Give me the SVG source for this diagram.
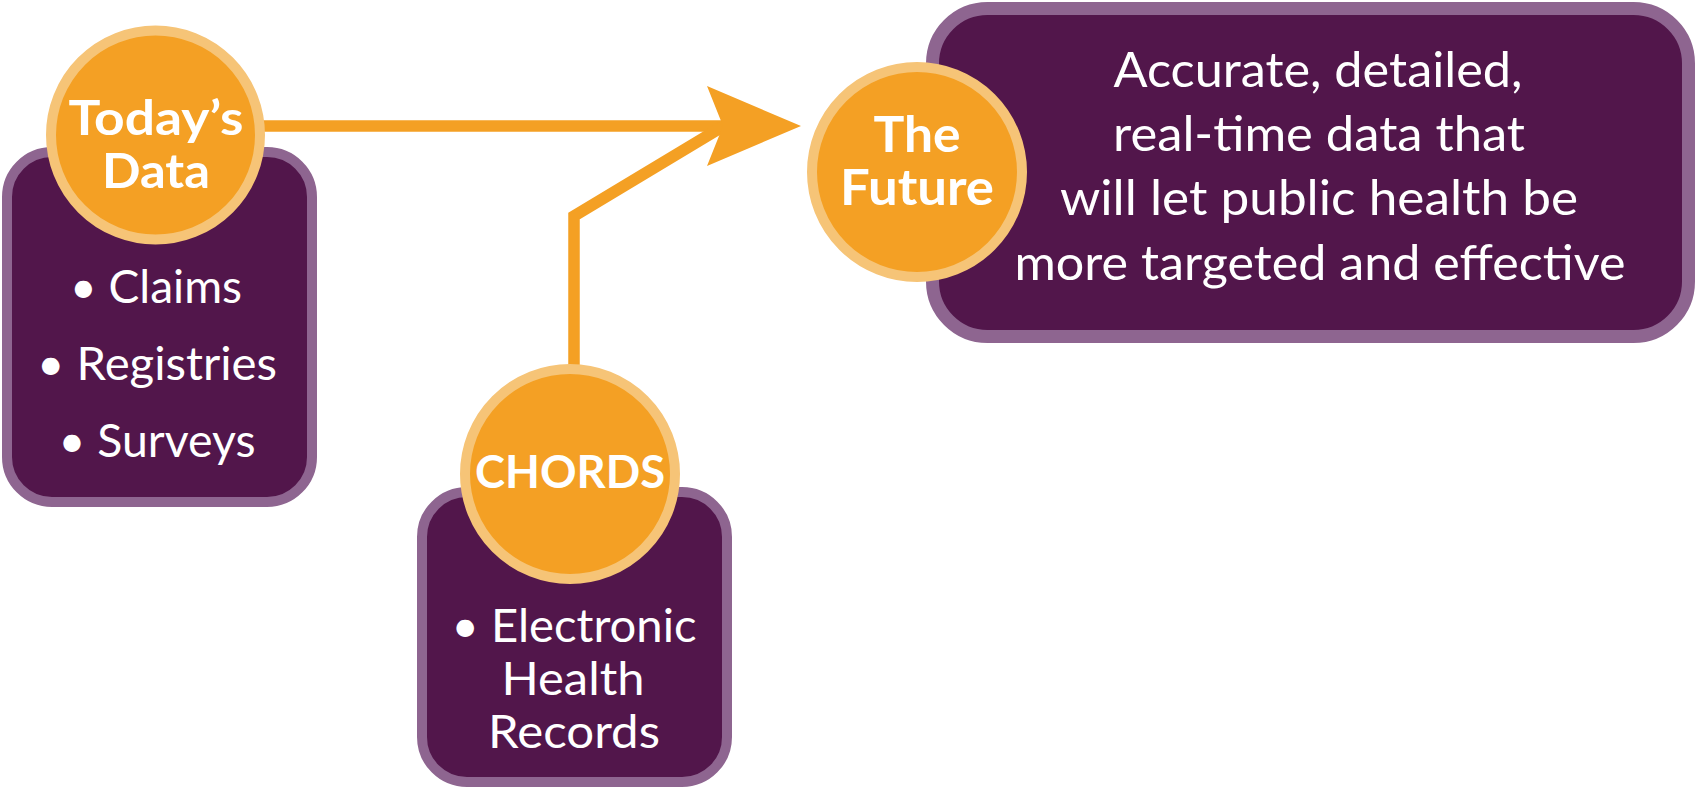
<svg xmlns="http://www.w3.org/2000/svg" width="1696" height="788" viewBox="0 0 1696 788">
<style>
.box{fill:#52164b;stroke:#8e6590}
.circ{fill:#f4a024;stroke:#f6c477;stroke-width:10}
.lbl{font-family:Lato,"Open Sans","Liberation Sans",sans-serif;font-weight:bold;fill:#fff;text-anchor:middle}
.txt{font-family:Lato,"Open Sans","Liberation Sans",sans-serif;fill:#fff;text-anchor:middle}
.wire{fill:none;stroke:#f4a024;stroke-width:11.5;stroke-linejoin:miter}
</style>
<rect width="1696" height="788" fill="#fff"/>
<g id="connectors">
<path class="wire" d="M260,126 H726"/>
<path class="wire" d="M574,368 V216 L722,127"/>
<polygon points="801,126 707,86 723,126 707,166" fill="#f4a024"/>
</g>
<g id="todays-data">
<rect class="box" x="7" y="152" width="305" height="350" rx="45" stroke-width="10"/>
<circle class="circ" cx="155.5" cy="135" r="104.5"/>
<text class="lbl" font-size="48" x="156" y="135" textLength="175" lengthAdjust="spacingAndGlyphs">Today’s</text>
<text class="lbl" font-size="48" x="156" y="188" textLength="108" lengthAdjust="spacingAndGlyphs">Data</text>
<text class="txt" font-size="46" x="156" y="303" textLength="172" lengthAdjust="spacingAndGlyphs">• Claims</text>
<text class="txt" font-size="46" x="157" y="380" textLength="240" lengthAdjust="spacingAndGlyphs">• Registries</text>
<text class="txt" font-size="46" x="157" y="457" textLength="197" lengthAdjust="spacingAndGlyphs">• Surveys</text>
</g>
<g id="chords">
<rect class="box" x="422" y="492" width="305" height="290" rx="45" stroke-width="10"/>
<circle class="circ" cx="570" cy="474" r="105"/>
<text class="lbl" font-size="46" x="570" y="488" textLength="190" lengthAdjust="spacingAndGlyphs">CHORDS</text>
<text class="txt" font-size="46" x="574" y="642" textLength="245" lengthAdjust="spacingAndGlyphs">• Electronic</text>
<text class="txt" font-size="46" x="573" y="695" textLength="143" lengthAdjust="spacingAndGlyphs">Health</text>
<text class="txt" font-size="46" x="574" y="748" textLength="172" lengthAdjust="spacingAndGlyphs">Records</text>
</g>
<g id="the-future">
<rect class="box" x="932.5" y="8.5" width="756" height="328" rx="55" stroke-width="13"/>
<circle class="circ" cx="917" cy="172" r="105"/>
<text class="lbl" font-size="50" x="917" y="152" textLength="87" lengthAdjust="spacingAndGlyphs">The</text>
<text class="lbl" font-size="50" x="917" y="205" textLength="154" lengthAdjust="spacingAndGlyphs">Future</text>
<text class="txt" font-size="48" x="1318" y="87" textLength="409" lengthAdjust="spacingAndGlyphs">Accurate, detailed,</text>
<text class="txt" font-size="48" x="1319" y="151" textLength="412" lengthAdjust="spacingAndGlyphs">real-time data that</text>
<text class="txt" font-size="48" x="1319" y="215" textLength="518" lengthAdjust="spacingAndGlyphs">will let public health be</text>
<text class="txt" font-size="48" x="1320" y="280" textLength="611" lengthAdjust="spacingAndGlyphs">more targeted and effective</text>
</g>
</svg>
